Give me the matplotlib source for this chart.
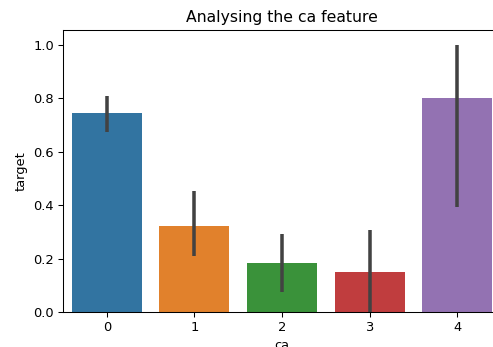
import matplotlib
matplotlib.use("Agg")
import matplotlib.pyplot as plt
import seaborn as sns

# mean target rate per number of major vessels (ca), with 95% CI bounds
ca_levels = ["0", "1", "2", "3", "4"]
target_mean = [0.745, 0.323, 0.182, 0.150, 0.800]
ci_low = [0.673, 0.210, 0.074, 0.000, 0.394]
ci_high = [0.810, 0.453, 0.291, 0.307, 1.000]

colors = [sns.desaturate(c, 0.75) for c in sns.color_palette("tab10", 5)]

DPI = 94
fig = plt.figure(figsize=(493 / DPI, 347 / DPI), dpi=DPI)
ax = fig.add_axes([63 / 493, 35 / 347, 438 / 493, 282 / 347])

x = range(len(ca_levels))
ax.bar(x, target_mean, width=0.8, color=colors)
ax.vlines(x, ci_low, ci_high, color="#424242", linewidth=2.7)

ax.set_xticks(list(x))
ax.set_xticklabels(ca_levels)
ax.set_xlim(-0.5, 4.5)
ax.set_ylim(0, 1.056)
ax.set_xlabel("ca")
ax.set_ylabel("target")
ax.set_title("Analysing the ca feature")

fig.savefig("out.png", dpi=DPI)
